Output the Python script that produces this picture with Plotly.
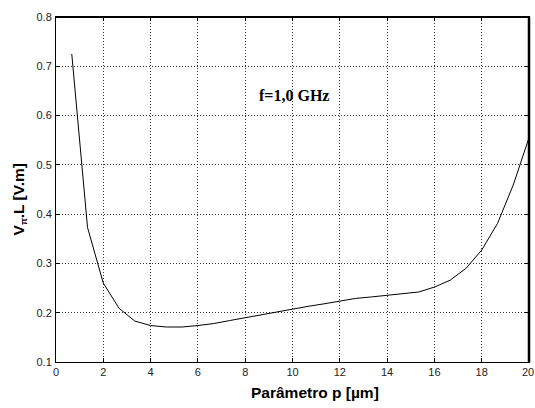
import plotly.graph_objects as go

p_um = [0.667, 1.333, 2.0, 2.667, 3.333, 4.0, 4.667, 5.333, 6.0, 6.667,
        7.333, 8.0, 8.667, 9.333, 10.0, 10.667, 11.333, 12.0, 12.667, 13.333,
        14.0, 14.667, 15.333, 16.0, 16.667, 17.333, 18.0, 18.667, 19.333, 20.0]
vpi_L = [0.725, 0.373, 0.260, 0.209, 0.183, 0.174, 0.171, 0.171, 0.174, 0.178,
         0.184, 0.190, 0.196, 0.202, 0.208, 0.213, 0.218, 0.224, 0.229, 0.232,
         0.235, 0.238, 0.242, 0.252, 0.266, 0.290, 0.327, 0.381, 0.459, 0.555]

x_ticks = [0, 2, 4, 6, 8, 10, 12, 14, 16, 18, 20]
y_ticks = [0.1, 0.2, 0.3, 0.4, 0.5, 0.6, 0.7, 0.8]

tick_font = dict(family="Liberation Sans, Arial", size=11, color="#222222")

fig = go.Figure()
fig.add_trace(go.Scatter(x=p_um, y=vpi_L, mode="lines",
                         line=dict(color="black", width=1), showlegend=False))

axis_common = dict(
    showgrid=True, gridcolor="#333333", griddash="1px,2px", gridwidth=1,
    showline=True, linecolor="black", linewidth=1, mirror="allticks",
    ticks="inside", ticklen=4, tickcolor="black", zeroline=False,
    tickfont=tick_font,
)

fig.update_xaxes(range=[0, 20], tickvals=x_ticks,
                 ticktext=[str(v) for v in x_ticks], **axis_common)
fig.update_yaxes(range=[0.1, 0.8], tickvals=y_ticks,
                 ticktext=[f"{v:.1f}" for v in y_ticks], ticklabelstandoff=1,
                 **axis_common)

# last x tick label (plotly drops it at the page edge)
fig.add_annotation(x=x_ticks[-1], y=0, xref="x", yref="paper", yanchor="top",
                   text=str(x_ticks[-1]), showarrow=False, xshift=-1, yshift=-2,
                   font=tick_font)

# thicker top and right frame lines
fig.add_shape(type="line", xref="paper", yref="paper", x0=0, x1=1, y0=1, y1=1,
              line=dict(color="black", width=2))
fig.add_shape(type="line", xref="paper", yref="paper", x0=1, x1=1, y0=0, y1=1,
              line=dict(color="black", width=2.5))

fig.add_annotation(x=10.05, y=0.64, xref="x", yref="y", text="<b>f=1,0 GHz</b>",
                   showarrow=False,
                   font=dict(family="Liberation Serif, Times New Roman", size=16, color="black"))

fig.add_annotation(x=0.547, y=-0.087, xref="paper", yref="paper", yanchor="middle",
                   text="<b>Parâmetro p [µm]</b>", showarrow=False,
                   font=dict(family="Liberation Sans, Arial", size=15.5, color="black"))
fig.add_annotation(x=-0.077, y=0.47, xref="paper", yref="paper", textangle=-90,
                   xanchor="center", yanchor="middle",
                   text="<b>V<sub><span style='font-size:9px'>π</span></sub>.L [V.m]</b>",
                   showarrow=False,
                   font=dict(family="Liberation Sans, Arial", size=15.5, color="black"))

fig.update_layout(
    width=535, height=408,
    margin=dict(l=56, r=6, t=17, b=46),
    plot_bgcolor="white", paper_bgcolor="white",
)

fig.write_html("out.html")
